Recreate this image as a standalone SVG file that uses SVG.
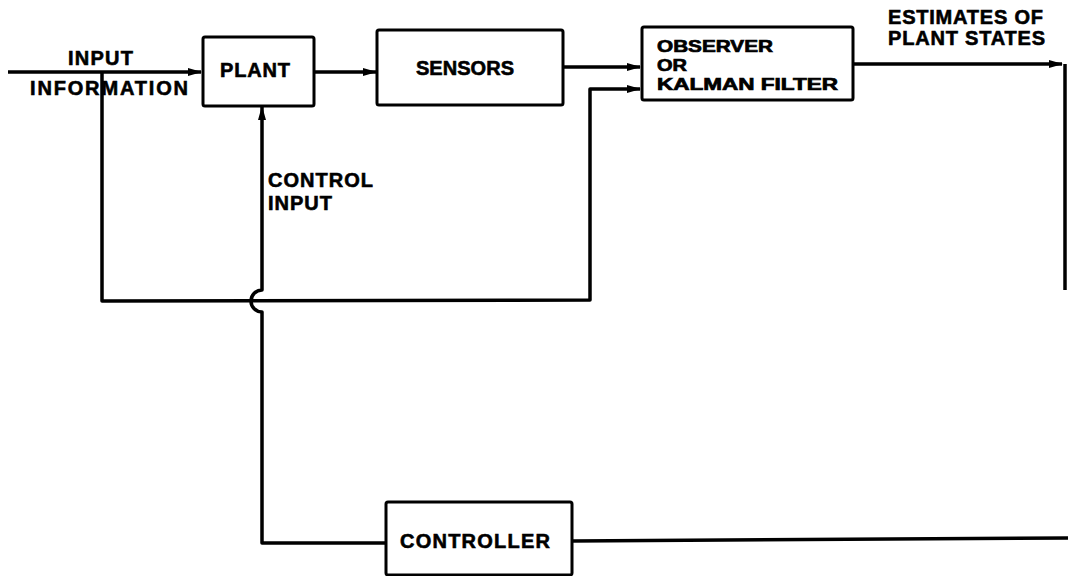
<svg xmlns="http://www.w3.org/2000/svg" width="1068" height="576" viewBox="0 0 1068 576">
<style>
.box{fill:#fff;stroke:#000;stroke-width:3}
.ln{fill:none;stroke:#000;stroke-width:3.5;stroke-linejoin:round}
text{font-family:"Liberation Sans",Arial,sans-serif;font-weight:bold;font-size:20px;fill:#000;stroke:#000;stroke-width:0.6}
.sm{font-size:16.5px;stroke-width:0.7}
</style>
<defs>
<marker id="ah" markerWidth="14" markerHeight="10" refX="13" refY="5" orient="auto" markerUnits="userSpaceOnUse">
<path d="M0,1 L14,5 L0,9 Z" fill="#000"/>
</marker>
</defs>
<g id="connectors">
<path class="ln" d="M8,72 L201,72" marker-end="url(#ah)"/>
<path class="ln" d="M314,72 L376,72" marker-end="url(#ah)"/>
<path class="ln" d="M563,67 L640,67" marker-end="url(#ah)"/>
<path class="ln" d="M102,72 L102,301 L590,300 L590,89 L640,89" marker-end="url(#ah)"/>
<path class="ln" d="M853,64 L1062,64" marker-end="url(#ah)"/>
<path class="ln" d="M1065,64 L1065,290"/>
<path class="ln" d="M386,543 L262,543 L262,312 A11,11 0 0 1 262,290 L262,107" marker-end="url(#ah)"/>
<path class="ln" d="M572,541 L1068,538"/>
</g>
<g id="input-info">
<text x="68" y="65" textLength="65" lengthAdjust="spacing">INPUT</text>
<text x="30" y="95" textLength="158" lengthAdjust="spacing">INFORMATION</text>
</g>
<g id="plant">
<rect class="box" x="203" y="37" width="111" height="69" rx="2"/>
<text x="220" y="77" textLength="70" lengthAdjust="spacing">PLANT</text>
</g>
<g id="sensors">
<rect class="box" x="377" y="30" width="186" height="75" rx="2"/>
<text x="416" y="75" textLength="98" lengthAdjust="spacing">SENSORS</text>
</g>
<g id="observer">
<rect class="box" x="642" y="27" width="211" height="73" rx="2"/>
<text class="sm" x="657" y="52" textLength="116" lengthAdjust="spacingAndGlyphs">OBSERVER</text>
<text class="sm" x="657" y="71" textLength="30" lengthAdjust="spacingAndGlyphs">OR</text>
<text class="sm" x="657" y="90" textLength="181" lengthAdjust="spacingAndGlyphs">KALMAN FILTER</text>
</g>
<g id="estimates">
<text x="888" y="24" textLength="155" lengthAdjust="spacing">ESTIMATES OF</text>
<text x="888" y="45" textLength="157" lengthAdjust="spacing">PLANT STATES</text>
</g>
<g id="control-input">
<text x="268" y="187" textLength="105" lengthAdjust="spacing">CONTROL</text>
<text x="268" y="210" textLength="64" lengthAdjust="spacing">INPUT</text>
</g>
<g id="controller">
<rect class="box" x="386" y="502" width="186" height="73" rx="2"/>
<text x="400" y="548" textLength="150" lengthAdjust="spacing">CONTROLLER</text>
</g>
</svg>
